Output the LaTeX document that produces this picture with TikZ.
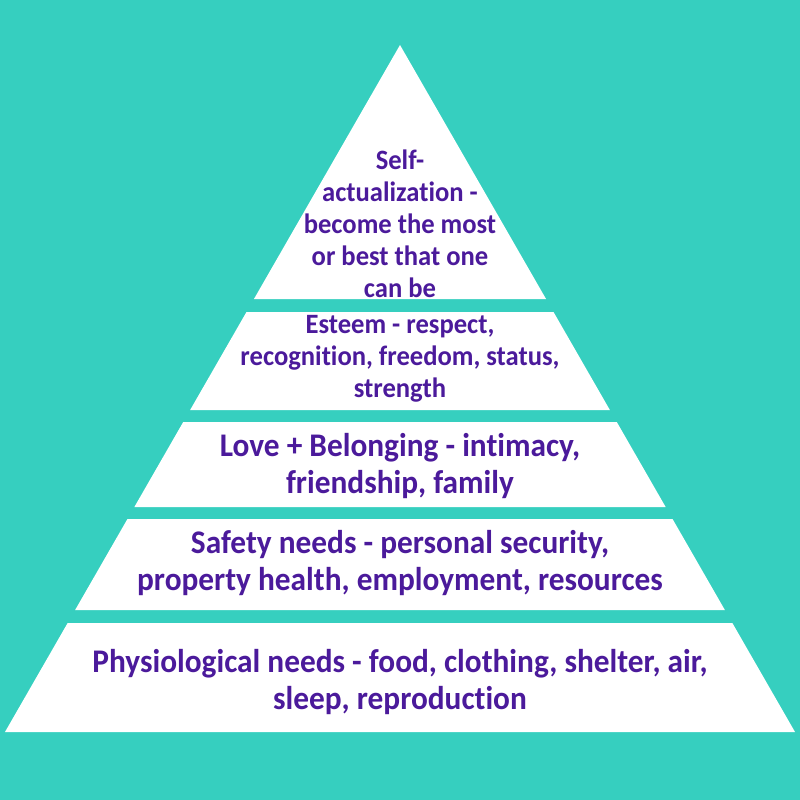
\documentclass[tikz,border=0pt]{standalone}
\usepackage{fontspec}
\newfontfamily\handfont[FakeStretch=0.95,Ligatures=NoCommon]{Carlito}
\definecolor{bgteal}{HTML}{36CFBF}
\definecolor{needpurple}{HTML}{4B1A9B}
% one white band of the pyramid, from top y to bottom y (px, measured from the top)
\newcommand{\pyrband}[2]{%
  \pgfmathsetmacro{\wt}{(#1-45)*0.575}%
  \pgfmathsetmacro{\wb}{(#2-45)*0.575}%
  \fill[white] (400-\wt,#1) -- (400+\wt,#1) -- (400+\wb,#2) -- (400-\wb,#2) -- cycle;%
}
\tikzset{
  needtext/.style={align=center, text=needpurple, inner sep=0pt,
    font=\handfont\bfseries\fontsize{33}{37}\selectfont},
  tightlines/.style={font=\handfont\bfseries\fontsize{28}{32}\selectfont}
}

\begin{document}
\begin{tikzpicture}[x=1pt,y=-1pt]
  \fill[bgteal] (0,0) rectangle (800,800);
  \pyrband{45}{299}
  \pyrband{312}{410}
  \pyrband{422}{507}
  \pyrband{519}{610}
  \pyrband{623}{732}
  \node[needtext,tightlines] (selfact) at (400,224) {Self-\\actualization -\\become the most\\or best that one\\can be};
  \node[needtext,tightlines] (esteem) at (400,359) {Esteem - respect,\\recognition, freedom, status,\\strength};
  \node[needtext] (love) at (400,466) {Love + Belonging - intimacy,\\friendship, family};
  \node[needtext] (safety) at (400,563) {Safety needs - personal security,\\property health, employment, resources};
  \node[needtext] (physio) at (400,682) {Physiological needs - food, clothing, shelter, air,\\sleep, reproduction};
\end{tikzpicture}
\end{document}
